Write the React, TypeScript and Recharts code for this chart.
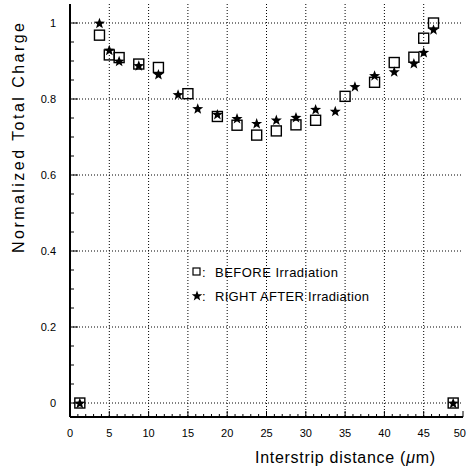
import React from 'react';
import { ScatterChart, Scatter, XAxis, YAxis, CartesianGrid, Label } from 'recharts';

// measured positions (um) and normalized charge
const beforeX = [1.25, 3.75, 5, 6.25, 8.75, 11.25, 15, 18.75, 21.25, 23.75, 26.25, 28.75, 31.25, 35, 38.75, 41.25, 43.75, 45, 46.25, 48.75];
const beforeY = [0, 0.968, 0.916, 0.909, 0.892, 0.883, 0.814, 0.754, 0.731, 0.705, 0.716, 0.732, 0.744, 0.807, 0.844, 0.896, 0.91, 0.96, 1.0, 0];
const afterX = [1.25, 3.75, 5, 6.25, 8.75, 11.25, 13.75, 16.25, 18.75, 21.25, 23.75, 26.25, 28.75, 31.25, 33.75, 36.25, 38.75, 41.25, 43.75, 45, 46.25, 48.75];
const afterY = [0, 1.0, 0.929, 0.9, 0.888, 0.865, 0.812, 0.775, 0.76, 0.749, 0.736, 0.745, 0.752, 0.773, 0.768, 0.833, 0.862, 0.872, 0.894, 0.923, 0.983, 0];

const xTicks = [0, 1, 2, 3, 4, 5, 6, 7, 8, 9, 10, 11, 12, 13, 14, 15, 16, 17, 18, 19, 20, 21, 22, 23, 24, 25, 26, 27, 28, 29, 30, 31, 32, 33, 34, 35, 36, 37, 38, 39, 40, 41, 42, 43, 44, 45, 46, 47, 48, 49, 50];
const yTicks = [0, 0.05, 0.1, 0.15, 0.2, 0.25, 0.3, 0.35, 0.4, 0.45, 0.5, 0.55, 0.6, 0.65, 0.7, 0.75, 0.8, 0.85, 0.9, 0.95, 1];
const xGrid = [5, 10, 15, 20, 25, 30, 35, 40, 45];
const yGrid = [0, 0.2, 0.4, 0.6, 0.8, 1];

const before = beforeX.map((x, i) => ({ x, y: beforeY[i] }));
const after = afterX.map((x, i) => ({ x, y: afterY[i] }));

const FONT = '"Liberation Sans", Arial, sans-serif';
const LEFT = 70;
const BOTTOM = 417;

function starPoints(cx: number, cy: number, ro: number, ri: number) {
  const pts: string[] = [];
  for (let k = 0; k < 10; k++) {
    const r = k % 2 === 0 ? ro : ri;
    const a = -Math.PI / 2 + (k * Math.PI) / 5;
    pts.push(`${cx + r * Math.cos(a)},${cy + r * Math.sin(a)}`);
  }
  return pts.join(' ');
}

const SquareShape = (p: any) => (
  <rect x={p.cx - 5} y={p.cy - 5} width={10} height={10} fill="none" stroke="#000" strokeWidth={1.4} />
);

const StarShape = (p: any) => <polygon points={starPoints(p.cx, p.cy + 0.5, 5.8, 2.4)} fill="#000" />;

const XTick = (p: any) => {
  const v = p.payload.value;
  const major = v % 5 === 0;
  const last = v === 50;
  return (
    <g>
      <line x1={p.x} x2={p.x} y1={BOTTOM} y2={BOTTOM - (major ? 6 : 3)} stroke="#000" />
      {major && (
        <text x={last ? 466 : p.x} y={437} textAnchor={last ? 'end' : 'middle'} fontSize={11} fontFamily={FONT} fill="#000">
          {v}
        </text>
      )}
    </g>
  );
};

const YTick = (p: any) => {
  const v = p.payload.value;
  const major = Math.abs(v * 5 - Math.round(v * 5)) < 1e-6;
  const label = v === 0 ? '0' : v === 1 ? '1' : v.toFixed(1);
  return (
    <g>
      <line x1={LEFT} x2={LEFT + (major ? 8 : 4)} y1={p.y} y2={p.y} stroke="#000" />
      {major && (
        <text x={56} y={p.y + 4} textAnchor="end" fontSize={11} fontFamily={FONT} fill="#000">
          {label}
        </text>
      )}
    </g>
  );
};

export default function App() {
  return (
    <div style={{ position: 'absolute', left: 0, top: 0, width: 467, height: 471, background: '#fff' }}>
      <ScatterChart width={467} height={471} margin={{ top: 4, right: 4, left: 0, bottom: 0 }}>
        <CartesianGrid
          stroke="#000"
          strokeDasharray="1 2"
          verticalValues={xGrid}
          horizontalValues={yGrid}
        />
        <XAxis
          type="number"
          dataKey="x"
          domain={[0, 50]}
          ticks={xTicks}
          interval={0}
          allowDataOverflow
          height={54}
          tickLine={false}
          tick={XTick}
          axisLine={{ stroke: '#000', strokeWidth: 2 }}
        >
          <Label
            content={() => (
              <text x={435} y={463} textAnchor="end" fontSize={16} fontFamily={FONT} fill="#000" textLength={180} lengthAdjust="spacing">
                Interstrip distance (<tspan fontStyle="italic">μ</tspan>m)
              </text>
            )}
          />
        </XAxis>
        <XAxis xAxisId="top" orientation="top" type="number" domain={[0, 50]} height={0} tick={false} tickLine={false} axisLine={{ stroke: '#000', strokeWidth: 1 }} />
        <YAxis
          type="number"
          dataKey="y"
          domain={[-0.0368, 1.05]}
          ticks={yTicks}
          interval={0}
          allowDataOverflow
          width={70}
          tickLine={false}
          tick={YTick}
          axisLine={{ stroke: '#000', strokeWidth: 2 }}
        >
          <Label
            content={() => (
              <text
                transform="translate(18,138) rotate(-90)"
                textAnchor="middle"
                dominantBaseline="central"
                fontSize={16}
                fontFamily={FONT}
                fill="#000"
                textLength={230}
                lengthAdjust="spacing"
              >
                Normalized Total Charge
              </text>
            )}
          />
        </YAxis>
        <YAxis yAxisId="right" orientation="right" type="number" domain={[0, 1]} width={0} tick={false} tickLine={false} axisLine={{ stroke: '#000', strokeWidth: 2 }} />
        <Scatter data={before} shape={SquareShape} isAnimationActive={false} />
        <Scatter data={after} shape={StarShape} isAnimationActive={false} />
      </ScatterChart>
      <svg width={467} height={471} style={{ position: 'absolute', left: 0, top: 0, pointerEvents: 'none' }}>
        <rect x={193} y={268} width={7} height={7} fill="none" stroke="#000" strokeWidth={1.2} />
        <text x={202} y={277} fontSize={13} fontFamily={FONT} fill="#000">:</text>
        <text x={215} y={277} fontSize={13} fontFamily={FONT} fill="#000" textLength={123} lengthAdjust="spacing">BEFORE Irradiation</text>
        <polygon points={starPoints(197, 296, 5.5, 2.3)} fill="#000" />
        <text x={202} y={301} fontSize={13} fontFamily={FONT} fill="#000">:</text>
        <text x={215} y={301} fontSize={13} fontFamily={FONT} fill="#000" textLength={154} lengthAdjust="spacing">RIGHT AFTER Irradiation</text>
      </svg>
    </div>
  );
}
